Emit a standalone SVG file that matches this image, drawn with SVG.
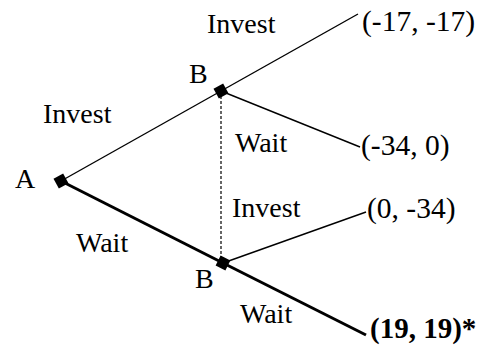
<svg xmlns="http://www.w3.org/2000/svg" width="487" height="350" viewBox="0 0 487 350">
<style>
text{font-family:"Liberation Serif","Times New Roman",serif;font-size:28px;fill:#000}
.p{font-size:29.5px}
.b{font-weight:bold;font-size:29px}
.thin{stroke:#000;stroke-width:1.4;fill:none}
.thick{stroke:#000;stroke-width:3;fill:none}
.dash{stroke:#000;stroke-width:1.2;stroke-dasharray:3,2;fill:none}
</style>
<rect width="487" height="350" fill="#fff"/>
<g id="connectors">
<line class="thin" x1="61" y1="181" x2="221" y2="91"/>
<line class="thick" x1="61" y1="181" x2="223" y2="263"/>
<line class="dash" x1="221" y1="91" x2="221" y2="262"/>
<line class="thin" x1="221" y1="91" x2="358" y2="14"/>
<line class="thin" x1="221" y1="91" x2="360" y2="147"/>
<line class="thin" x1="223" y1="263" x2="366" y2="212"/>
<line class="thick" x1="223" y1="263" x2="366" y2="335"/>
</g>
<g id="nodeA">
<rect x="55.5" y="175.5" width="11" height="11" transform="rotate(-29 61 181)"/>
<text x="15" y="188">A</text>
</g>
<g id="nodeB1">
<rect x="215.5" y="85.5" width="11" height="11" transform="rotate(-29 221 91)"/>
<text x="189" y="83">B</text>
</g>
<g id="nodeB2">
<rect x="217.5" y="257.5" width="11" height="11" transform="rotate(27 223 263)"/>
<text x="195" y="288">B</text>
</g>
<g id="labels">
<text x="43" y="123">Invest</text>
<text x="76" y="252">Wait</text>
<text x="207" y="33">Invest</text>
<text x="235" y="152">Wait</text>
<text x="232" y="217">Invest</text>
<text x="240" y="323">Wait</text>
</g>
<g id="payoffs">
<text class="p" x="362" y="31">(-17, -17)</text>
<text class="p" x="361" y="155">(-34, 0)</text>
<text class="p" x="367" y="218">(0, -34)</text>
<text class="b" x="370" y="338">(19, 19)*</text>
</g>
</svg>
